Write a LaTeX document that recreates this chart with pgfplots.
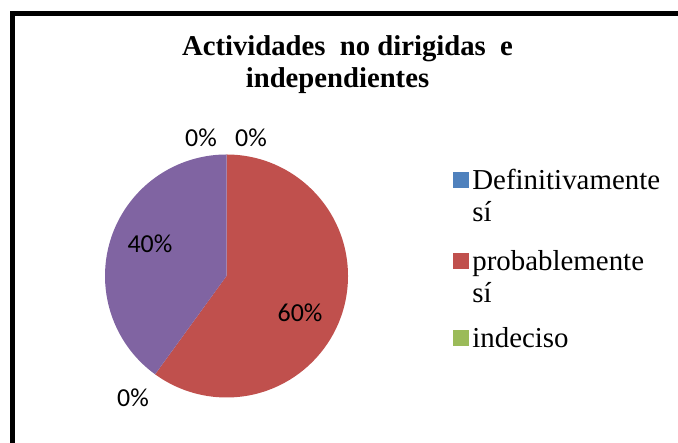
\documentclass[border=0pt]{standalone}
\usepackage{pgfplots}
\pgfplotsset{compat=1.18}
\usepackage{pgfplotstable}
\usepackage{fontspec}
\setmainfont{Liberation Serif}
\newfontfamily\lblfont{Carlito}
\definecolor{cBlue}{HTML}{4F81BD}
\definecolor{cRed}{HTML}{C0504D}
\definecolor{cGreen}{HTML}{9BBB59}
\definecolor{cPurple}{HTML}{8064A2}
\definecolor{cOrange}{HTML}{F79646}

\pgfplotstableread{
cat value
1 0
2 60
3 0
4 40
5 0
}\piedata

\begin{document}%
\begin{tikzpicture}
\pgfplotstablegetelem{0}{value}\of\piedata \let\vA=\pgfplotsretval
\pgfplotstablegetelem{1}{value}\of\piedata \let\vB=\pgfplotsretval
\pgfplotstablegetelem{2}{value}\of\piedata \let\vC=\pgfplotsretval
\pgfplotstablegetelem{3}{value}\of\piedata \let\vD=\pgfplotsretval
\pgfmathsetmacro\aA{90-3.6*\vA}
\pgfmathsetmacro\aB{\aA-3.6*\vB}
\pgfmathsetmacro\aC{\aB-3.6*\vC}
\pgfmathsetmacro\aD{\aC-3.6*\vD}
\begin{axis}[
  x=1bp, y=1bp,
  xmin=0, xmax=678, ymin=0, ymax=443,
  enlargelimits=false,
  hide axis,
  clip=false,
  legend style={
    at={(0.6681,0.6239)}, anchor=north west,
    draw=none, fill=none, inner sep=0pt, outer sep=0pt,
    row sep=0pt, column sep=4bp,
    nodes={inner sep=0pt, outer sep=0pt},
    cells={anchor=base west, inner sep=0pt},
    font=\fontsize{29}{32}\selectfont,
  },
]
\path (axis cs:0,0) rectangle (axis cs:678,443);
% frame (cut off at right and bottom)
\fill[black] (axis cs:10,427.3) rectangle (axis cs:678,431.5);
\fill[black] (axis cs:10,0) rectangle (axis cs:15.3,431.5);

% pie slices, centre (226.5,167), radius 121.5
\fill[cRed] (axis cs:226.5,167) -- ([shift={(\aA:121.5bp)}]axis cs:226.5,167)
   arc[start angle=\aA, end angle=\aB, radius=121.5bp] -- cycle;
\fill[cPurple] (axis cs:226.5,167) -- ([shift={(\aC:121.5bp)}]axis cs:226.5,167)
   arc[start angle=\aC, end angle=\aD, radius=121.5bp] -- cycle;

% data labels
\begin{scope}[every node/.style={font=\lblfont\fontsize{26}{30}\selectfont, anchor=base, inner sep=0pt}]
\node at (axis cs:201,296.3) {0\%};
\node at (axis cs:251,296.3) {0\%};
\node at (axis cs:300,121) {60\%};
\node at (axis cs:150,190) {40\%};
\node at (axis cs:133,36.3) {0\%};
\end{scope}

% title
\node[font=\bfseries\fontsize{28.8}{32}\selectfont, anchor=base, inner sep=0pt] at (axis cs:347.5,387) {Actividades\ \ no dirigidas\ \ e};
\node[font=\bfseries\fontsize{28.8}{32}\selectfont, anchor=base, inner sep=0pt] at (axis cs:337.5,355) {independientes};

\addlegendimage{legend image code/.code={\fill[cBlue] (0bp,1.5bp) rectangle (15bp,16.5bp);}}
\addlegendentry[inner sep=0pt, text height=22.4bp, text depth=9.6bp]{Definitivamente}
\addlegendimage{empty legend}
\addlegendentry[inner sep=0pt, text height=22.4bp, text depth=26.6bp]{sí}
\addlegendimage{legend image code/.code={\fill[cRed] (0bp,1.5bp) rectangle (15bp,16.5bp);}}
\addlegendentry[inner sep=0pt, text height=22.4bp, text depth=9.6bp]{probablemente}
\addlegendimage{empty legend}
\addlegendentry[inner sep=0pt, text height=22.4bp, text depth=22.6bp]{sí}
\addlegendimage{legend image code/.code={\fill[cGreen] (0bp,1.5bp) rectangle (15bp,16.5bp);}}
\addlegendentry[inner sep=0pt, text height=22.4bp, text depth=9.6bp]{indeciso}
\end{axis}
\end{tikzpicture}%
\end{document}
